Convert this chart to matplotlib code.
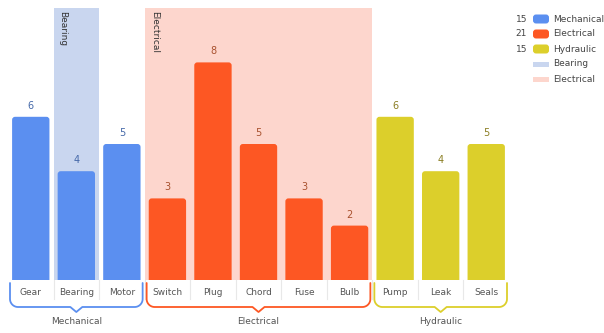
import matplotlib
matplotlib.use("Agg")
import matplotlib.pyplot as plt
import numpy as np
from matplotlib.patches import FancyBboxPatch, Rectangle
import matplotlib.transforms as mtransforms

# ---- data ----
categories = ["Gear", "Bearing", "Motor", "Switch", "Plug", "Chord", "Fuse", "Bulb",
              "Pump", "Leak", "Seals"]
mechanical = [6, 4, 5]
electrical = [3, 8, 5, 3, 2]
hydraulic = [6, 4, 5]
groups = ["Mechanical", "Electrical", "Hydraulic"]
group_values = [mechanical, electrical, hydraulic]
group_colors = ["#5b8ff0", "#fd5723", "#dccf2b"]
label_colors = ["#4468a8", "#a8512e", "#8a7d22"]
bands = ["Bearing", "Electrical"]
band_ranges = [(1, 1), (3, 7)]   # category index ranges
band_colors = ["#c9d6ef", "#fdd6cd"]

plt.rcParams['font.family'] = ['DejaVu Sans']

W, H = 604, 333
fig = plt.figure(figsize=(W / 100, H / 100), dpi=100)
ax = fig.add_axes([8 / W, 53 / H, 501 / W, 272 / H])
ax.set_xlim(-0.5, len(categories) - 0.5)
ax.set_ylim(0, 10)
ax.axis("off")

px = mtransforms.Affine2D().scale(1 / 100) + fig.dpi_scale_trans
ax_h = 272.0
x_per_px = 1 / 45.545
y_per_px = 10 / 272.0

# bands
for name, (a, b), c in zip(bands, band_ranges, band_colors):
    ax.axvspan(a - 0.5, b + 0.5, color=c, zorder=0, lw=0)
    ax.text(a - 0.5 + 5 * x_per_px, 10 - 3 * y_per_px, name, rotation=270,
            ha="left", va="top", fontsize=6.5, color="#333333", zorder=1)

# bars
idx = 0
for vals, col, lcol in zip(group_values, group_colors, label_colors):
    xs = np.arange(idx, idx + len(vals))
    bars = ax.bar(xs, vals, width=0.82, color=col, zorder=2)
    for rect, v in zip(bars, vals):
        x0, w, h = rect.get_x(), rect.get_width(), rect.get_height()
        rect.set_visible(False)
        r = 3 * x_per_px
        p = FancyBboxPatch((x0, -0.5), w, h + 0.5,
                           boxstyle=f"round,pad=0,rounding_size={r}",
                           mutation_aspect=y_per_px / x_per_px,
                           fc=col, ec="none", zorder=2)
        ax.add_patch(p)
        ax.text(x0 + w / 2, h + 6 * y_per_px, str(v), ha="center", va="bottom",
                fontsize=7, color=lcol, zorder=3)
    idx += len(vals)

# category axis area
xt = ax.get_xaxis_transform()
def fy(p):
    return -p / ax_h

for i, c in enumerate(categories):
    ax.text(i, fy(12.5), c, transform=xt, ha="center", va="center",
            fontsize=6.5, color="#555555", clip_on=False)
for i in range(1, len(categories)):
    ax.plot([i - 0.5, i - 0.5], [0, fy(19)], transform=xt, color="#e8e8e8",
            lw=0.8, clip_on=False, zorder=1)

# braces
idx = 0
for g, vals, col in zip(groups, group_values, group_colors):
    x0 = idx - 0.5 + 2 * x_per_px
    x1 = idx + len(vals) - 0.5 - 2 * x_per_px
    xc = (x0 + x1) / 2
    r = 8
    th = np.linspace(0, np.pi / 2, 14)
    pts = [(x0, fy(3))]
    for t in th:
        pts.append((x0 + r * x_per_px * (1 - np.cos(t)), fy(19 + r * np.sin(t))))
    pts += [(xc - 6 * x_per_px, fy(27)), (xc, fy(32)), (xc + 6 * x_per_px, fy(27))]
    for t in th[::-1]:
        pts.append((x1 - r * x_per_px * (1 - np.cos(t)), fy(19 + r * np.sin(t))))
    pts.append((x1, fy(3)))
    pts = np.array(pts)
    ax.plot(pts[:, 0], pts[:, 1], transform=xt, color=col, lw=1.3,
            clip_on=False, solid_joinstyle="round", solid_capstyle="round")
    ax.text(xc, fy(41), g, transform=xt, ha="center", va="center",
            fontsize=6.5, color="#555555", clip_on=False)
    idx += len(vals)

# legend
rows_y = [19, 34, 49, 64, 79]
for i, (g, vals, col) in enumerate(zip(groups, group_values, group_colors)):
    yy = H - rows_y[i]
    fig.text(527 / W, yy / H, str(sum(vals)), ha="right", va="center",
             fontsize=6.5, color="#444444")
    fig.add_artist(FancyBboxPatch((533, yy - 4.5), 16, 9,
                                  boxstyle="round,pad=0,rounding_size=3",
                                  fc=col, ec="none", transform=px))
    fig.text(553 / W, yy / H, g, ha="left", va="center", fontsize=6.5,
             color="#444444")
for j, (b, col) in enumerate(zip(bands, band_colors)):
    yy = H - rows_y[3 + j]
    fig.add_artist(Rectangle((533, yy - 2.5), 16, 5, fc=col, ec="none",
                             transform=px))
    fig.text(553 / W, yy / H, b, ha="left", va="center", fontsize=6.5,
             color="#444444")

fig.savefig("out.png", dpi=100)
